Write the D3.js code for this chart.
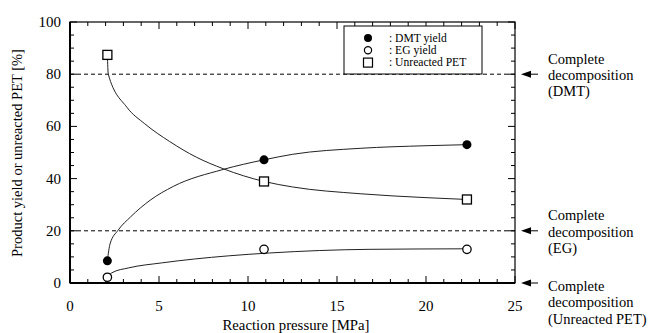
<!DOCTYPE html>
<html lang="en">
<head>
<meta charset="UTF-8">
<title>Reaction pressure vs product yield</title>
<script src="https://cdn.jsdelivr.net/npm/d3@7"></script>
<style>
    body { margin: 0; background: #fff; }
    svg { display: block; }
    svg text { font-family: "Liberation Serif", "Times New Roman", Times, "DejaVu Serif", serif; }
</style>
</head>
<body>
<svg id="chart" width="657" height="333"></svg>
<script>
// measured points (pressure MPa, %)
const pressure = [2.1, 10.9, 22.3];
const dmtYield = [8.5, 47.2, 53];
const egYield = [2.2, 12.9, 12.9];
const unreactedPet = [87.4, 38.9, 32];

// fitted curves
const dmtCurve = [[2.1, 8.5], [2.25, 15], [2.7, 20.2], [3.4, 25.3], [4.5, 31.7], [5.8, 37], [8.6, 43.5],
    [10.9, 47.2], [12.5, 49.3], [16.3, 51.6], [20, 52.6], [22.3, 53]];
const egCurve = [[2.1, 2.2], [2.35, 3.9], [3.3, 5.8], [5.15, 7.7], [7.0, 9.2], [8.9, 10.4], [11.2, 11.5],
    [16.8, 12.9], [22.3, 13.1]];
const petCurve = [[2.1, 87.4], [2.15, 80], [3.2, 67.3], [4.2, 61], [5.6, 54.2], [7.1, 48.2], [8.6, 43.8],
    [10.9, 38.9], [12.5, 36.8], [16.3, 34.2], [20, 32.7], [22.3, 32]];

const xTicks = [0, 5, 10, 15, 20, 25];
const yTicks = [0, 20, 40, 60, 80, 100];
const refLines = [80, 20];
const legendItems = [": DMT yield", ": EG yield", ": Unreacted PET"];
const notes = [
    { y: 80, lines: ["Complete", "decomposition", "(DMT)"] },
    { y: 20, lines: ["Complete", "decomposition", "(EG)"] },
    { y: 0, lines: ["Complete", "decomposition", "(Unreacted PET)"] }
];

const serif = "'Liberation Serif', 'Times New Roman', Times, 'DejaVu Serif', serif";
const svg = d3.select("#chart").attr("font-family", serif);
const pLeft = 70, pRight = 515, pTop = 22, pBottom = 283;

const x = d3.scaleLinear().domain([0, 25]).range([pLeft, pRight]);
const y = d3.scaleLinear().domain([0, 100]).range([pBottom, pTop]);

// inward ticks on all four sides
const g = svg.append("g").attr("stroke", "#000");
d3.range(0, 26, 1).forEach(v => {
    const len = v % 5 === 0 ? 7 : 4;
    g.append("line").attr("x1", x(v)).attr("x2", x(v)).attr("y1", pBottom).attr("y2", pBottom - len).attr("stroke-width", 1);
    g.append("line").attr("x1", x(v)).attr("x2", x(v)).attr("y1", pTop).attr("y2", pTop + len).attr("stroke-width", 1);
});
d3.range(0, 101, 5).forEach(v => {
    const len = v % 20 === 0 ? 7 : 4;
    g.append("line").attr("y1", y(v)).attr("y2", y(v)).attr("x1", pLeft).attr("x2", pLeft + len).attr("stroke-width", 1);
    g.append("line").attr("y1", y(v)).attr("y2", y(v)).attr("x1", pRight).attr("x2", pRight - len).attr("stroke-width", 1);
});

// frame
svg.append("rect").attr("x", pLeft).attr("y", pTop).attr("width", pRight - pLeft).attr("height", pBottom - pTop)
    .attr("fill", "none").attr("stroke", "#000").attr("stroke-width", 1.2);
svg.append("line").attr("x1", pLeft).attr("x2", pLeft).attr("y1", pTop).attr("y2", pBottom).attr("stroke", "#000").attr("stroke-width", 2);
svg.append("line").attr("x1", pLeft).attr("x2", pRight).attr("y1", pBottom).attr("y2", pBottom).attr("stroke", "#000").attr("stroke-width", 2);

// tick labels
svg.append("g").selectAll("text").data(xTicks).join("text")
    .attr("x", d => x(d)).attr("y", 311).attr("text-anchor", "middle")
    .attr("font-size", 15).text(d => d);
svg.append("g").selectAll("text").data(yTicks).join("text")
    .attr("x", 61).attr("y", d => y(d) + 5).attr("text-anchor", "end")
    .attr("font-size", 15).text(d => d);

// axis titles
svg.append("text").attr("x", 296).attr("y", 330).attr("text-anchor", "middle")
    .attr("font-size", 14.8).text("Reaction pressure [MPa]");
svg.append("text").attr("transform", "translate(22,153) rotate(-90)").attr("text-anchor", "middle")
    .attr("font-size", 14.5).text("Product yield or unreacted PET [%]");

// dashed reference lines
svg.append("g").selectAll("line").data(refLines).join("line")
    .attr("x1", pLeft).attr("x2", pRight).attr("y1", d => y(d)).attr("y2", d => y(d))
    .attr("stroke", "#000").attr("stroke-width", 1).attr("stroke-dasharray", "4,3");

// curves
const line = d3.line().x(d => x(d[0])).y(d => y(d[1])).curve(d3.curveMonotoneX);
[dmtCurve, egCurve, petCurve].forEach(c => {
    svg.append("path").datum(c).attr("d", line)
        .attr("fill", "none").attr("stroke", "#222").attr("stroke-width", 1);
});

// markers
svg.append("g").selectAll("circle").data(pressure.map((p, i) => [p, dmtYield[i]])).join("circle")
    .attr("cx", d => x(d[0])).attr("cy", d => y(d[1])).attr("r", 4.5).attr("fill", "#000");
svg.append("g").selectAll("circle").data(pressure.map((p, i) => [p, egYield[i]])).join("circle")
    .attr("cx", d => x(d[0])).attr("cy", d => y(d[1])).attr("r", 4.2)
    .attr("fill", "#fff").attr("stroke", "#000").attr("stroke-width", 1.3);
svg.append("g").selectAll("rect").data(pressure.map((p, i) => [p, unreactedPet[i]])).join("rect")
    .attr("x", d => x(d[0]) - 4.5).attr("y", d => y(d[1]) - 4.5).attr("width", 9).attr("height", 9)
    .attr("fill", "#fff").attr("stroke", "#000").attr("stroke-width", 1.3);

// legend
const lg = svg.append("g");
lg.append("rect").attr("x", 344).attr("y", 26).attr("width", 138).attr("height", 48)
    .attr("fill", "#fff").attr("stroke", "#000").attr("stroke-width", 1);
legendItems.forEach((t, i) => {
    const cy = 38 + i * 12.3;
    if (i === 0) lg.append("circle").attr("cx", 368).attr("cy", cy).attr("r", 4).attr("fill", "#000");
    if (i === 1) lg.append("circle").attr("cx", 368).attr("cy", cy).attr("r", 3.6).attr("fill", "#fff").attr("stroke", "#000").attr("stroke-width", 1.2);
    if (i === 2) lg.append("rect").attr("x", 363.5).attr("y", cy - 4.5).attr("width", 9).attr("height", 9).attr("fill", "#fff").attr("stroke", "#000").attr("stroke-width", 1.2);
    lg.append("text").attr("x", 389).attr("y", cy + 3.8).attr("font-size", 11.6).text(t);
});

// right-hand annotations with arrows
notes.forEach((n, i) => {
    const ay = y(n.y);
    svg.append("path").attr("d", `M${pRight + 6},${ay} L${pRight + 16},${ay - 3.5} L${pRight + 16},${ay + 3.5} Z`).attr("fill", "#000");
    svg.append("line").attr("x1", pRight + 16).attr("x2", pRight + 23).attr("y1", ay).attr("y2", ay)
        .attr("stroke", "#000").attr("stroke-width", 1);
    const start = i === 2 ? ay + 8 : ay - 10.5;
    n.lines.forEach((t, k) => {
        svg.append("text").attr("x", 548).attr("y", start + k * 16.3).attr("font-size", 14.5).text(t);
    });
});
</script>
</body>
</html>
